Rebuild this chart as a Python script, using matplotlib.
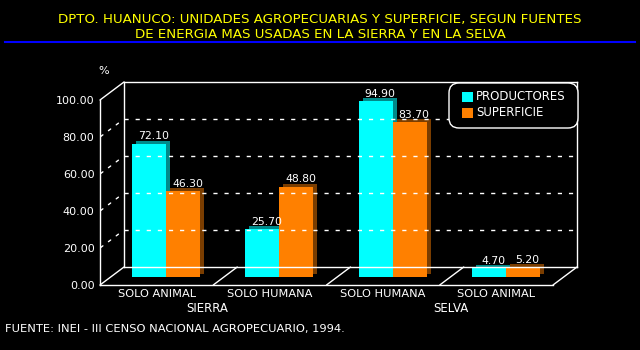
import numpy as np
import matplotlib.pyplot as plt
from matplotlib.transforms import offset_copy
from matplotlib.patches import FancyBboxPatch, Rectangle

categories = ['SOLO ANIMAL', 'SOLO HUMANA', 'SOLO HUMANA', 'SOLO ANIMAL']
regions = ['SIERRA', 'SELVA']
region_pos = [0.95, 3.1]
productores = [72.10, 25.70, 94.90, 4.70]
superficie = [46.30, 48.80, 83.70, 5.20]
series_names = ['PRODUCTORES', 'SUPERFICIE']
yticks = [0, 20, 40, 60, 80, 100]

colors = ['#00ffff', '#ff8000']
dark = ['#008a8a', '#7a3d00']

W, H = 640, 350
plt.rcParams['font.family'] = 'DejaVu Sans'
fig = plt.figure(figsize=(6.4, 3.5), dpi=100, facecolor='black')

# front plane of the pseudo 3d box
ax = fig.add_axes([100 / W, 1 - 285 / H, 453 / W, 185 / H])
ax.set_facecolor('none')
ax.set_xlim(0, 4)
ax.set_ylim(0, 100)
for s in ax.spines.values():
    s.set_visible(False)

back = offset_copy(ax.transData, fig, x=24, y=18, units='dots')
mid = offset_copy(ax.transData, fig, x=9.5, y=8, units='dots')
ext = offset_copy(ax.transData, fig, x=13.5, y=11, units='dots')

lk = dict(color='white', lw=1, clip_on=False)
ax.plot([0, 0], [0, 100], **lk)
ax.plot([0, 4], [0, 0], **lk)
ax.plot([0, 4], [100, 100], transform=back, **lk)
ax.plot([0, 0], [0, 100], transform=back, **lk)
ax.plot([4, 4], [0, 100], transform=back, **lk)
ax.plot([0, 4], [0, 0], transform=back, **lk)
for v in yticks[1:-1]:
    ax.plot([0, 4], [v, v], transform=back, ls=(0, (3, 5)), **lk)
    ax.annotate('', xy=(0, v), xytext=(24, 18), textcoords='offset pixels',
                arrowprops=dict(arrowstyle='-', color='white', lw=1, ls=(2, (2, 5)),
                                shrinkA=0, shrinkB=0))
for xv in range(5):
    ax.annotate('', xy=(xv, 0), xytext=(24, 18), textcoords='offset pixels',
                arrowprops=dict(arrowstyle='-', color='white', lw=1, shrinkA=0, shrinkB=0))
ax.annotate('', xy=(0, 100), xytext=(24, 18), textcoords='offset pixels',
            arrowprops=dict(arrowstyle='-', color='white', lw=1, shrinkA=0, shrinkB=0))

# bars
x = np.arange(len(categories)) + 0.5
w = 0.30
for i, vals in enumerate([productores, superficie]):
    xs = x - w / 2 if i == 0 else x + w / 2
    ax.bar(xs, vals, w, color=dark[i], transform=ext, clip_on=False)
    ax.bar(xs, vals, w, color=colors[i], transform=mid, clip_on=False)
    for xx, v in zip(xs, vals):
        ax.annotate('%.2f' % v, xy=(xx, v), xytext=(14, 12.5), textcoords='offset pixels',
                    ha='center', va='baseline', color='white', fontsize=7.8)

ax.set_yticks(yticks)
ax.set_yticklabels(['%.2f' % v for v in yticks])
ax.set_xticks(x)
ax.set_xticklabels(categories)
ax.tick_params(axis='y', length=0, pad=4, colors='white', labelsize=8)
ax.tick_params(axis='x', length=0, pad=3, colors='white', labelsize=8.2)
for r, p in zip(regions, region_pos):
    ax.text(p, -24 / 185, r, transform=ax.get_xaxis_transform(),
            ha='center', va='center', color='white', fontsize=8.5)

# overlay in pixel coordinates for title, legend, notes
ov = fig.add_axes([0, 0, 1, 1])
ov.set_xlim(0, W)
ov.set_ylim(H, 0)
ov.axis('off')
ov.patch.set_alpha(0)

ov.text(320, 20, 'DPTO. HUANUCO: UNIDADES AGROPECUARIAS Y SUPERFICIE, SEGUN FUENTES',
        ha='center', va='center', color='#ffff00', fontsize=9.6)
ov.text(320, 34, 'DE ENERGIA MAS USADAS EN LA SIERRA Y EN LA SELVA',
        ha='center', va='center', color='#ffff00', fontsize=9.6)
ov.plot([5, 635], [42, 42], color='#0000ff', lw=1.5)
ov.text(104, 71, '%', ha='center', va='center', color='white', fontsize=8)
ov.text(5, 329, 'FUENTE: INEI - III CENSO NACIONAL AGROPECUARIO, 1994.',
        ha='left', va='center', color='white', fontsize=8.25)

ov.add_patch(FancyBboxPatch((449, 83), 129, 45, boxstyle='round,pad=0,rounding_size=10',
                            facecolor='black', edgecolor='white', lw=1))
for i, name in enumerate(series_names):
    y0 = 92 + i * 16
    ov.add_patch(Rectangle((462, y0), 11, 10, facecolor=colors[i], edgecolor='none'))
    ov.text(476, y0 + 5, name, ha='left', va='center', color='white', fontsize=8.5)

fig.savefig('out.png', dpi=100, facecolor='black')
